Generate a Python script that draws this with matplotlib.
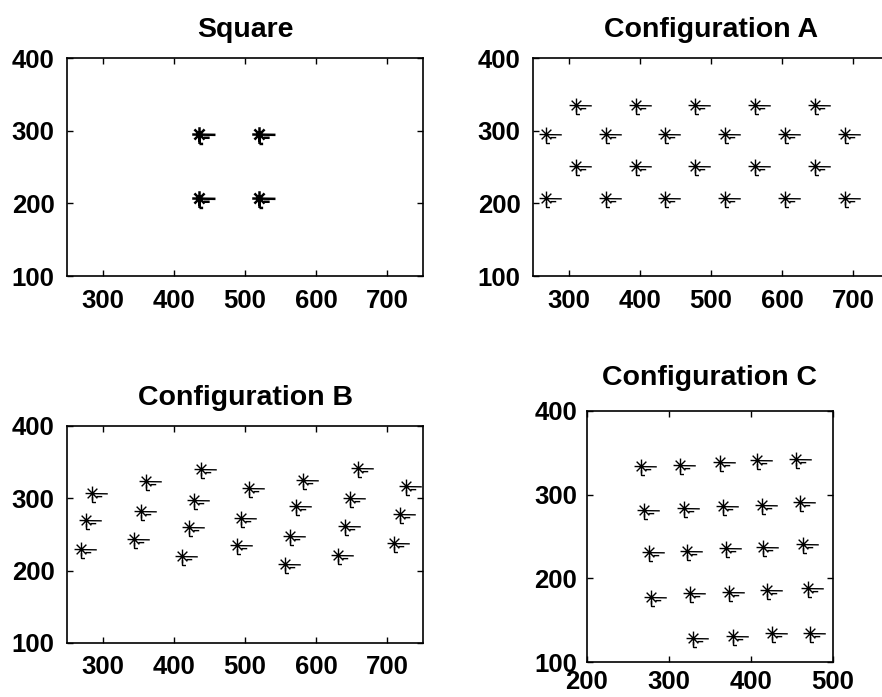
import matplotlib
matplotlib.use("Agg")
import matplotlib.pyplot as plt
from matplotlib.path import Path
import numpy as np

plt.rcParams['font.family'] = ['Liberation Sans', 'DejaVu Sans']
plt.rcParams['font.weight'] = 'bold'

# ---- data ----
square_x = [436, 520, 436, 520]
square_y = [296, 296, 208, 208]

confA_x = [310, 394, 478, 562, 646,
           268, 352, 436, 520, 604, 688,
           310, 394, 478, 562, 646,
           268, 352, 436, 520, 604, 688]
confA_y = [336, 336, 336, 336, 336,
           295, 295, 295, 295, 295, 295,
           252, 252, 252, 252, 252,
           208, 208, 208, 208, 208, 208]

confB_x = [269, 276, 285, 344, 354, 361, 411, 422, 429, 438, 489, 495,
           505, 556, 563, 572, 581, 631, 640, 648, 659, 709, 718, 726]
confB_y = [230, 270, 308, 244, 283, 324, 220, 260, 298, 340, 235, 273,
           314, 209, 248, 289, 326, 222, 262, 301, 342, 238, 278, 317]

confC_x = [266, 313, 362, 407, 455,
           270, 318, 366, 413, 460,
           275, 322, 369, 415, 464,
           278, 326, 373, 420, 469,
           329, 378, 426, 472]
confC_y = [334, 336, 339, 341, 343,
           282, 284, 286, 288, 291,
           231, 233, 236, 238, 241,
           178, 182, 184, 186, 189,
           129, 131, 135, 135]

titles = ["Square", "Configuration A", "Configuration B", "Configuration C"]
x_ticks_main = [300, 400, 500, 600, 700]
x_ticks_c = [200, 300, 400, 500]
y_ticks = [100, 200, 300, 400]

# ---- marker: asterisk with small artefact strokes ----
d = 0.7
verts = [(0, -1), (0, 1),
         (-1, 0), (2.2, -0.05),
         (-d, -d), (d, d),
         (-d, d), (d, -d),
         (0, -0.5), (0, -1.3),
         (0, -1.3), (0.5, -1.3),
         (0.6, -0.45), (1.4, -0.45)]
codes = [Path.MOVETO, Path.LINETO] * 7
star = Path(verts, codes)

fig = plt.figure(figsize=(8.82, 6.97), dpi=100)

positions = [
    [67/882, 1-276/697, 356/882, 218/697],
    [533/882, 1-276/697, 356/882, 218/697],
    [67/882, 1-643/697, 356/882, 217/697],
    [587/882, 1-662/697, 246/882, 251/697],
]
datasets = [(square_x, square_y), (confA_x, confA_y),
            (confB_x, confB_y), (confC_x, confC_y)]
pads = [15, 15, 15, 19]

for i, (pos, (xs, ys)) in enumerate(zip(positions, datasets)):
    ax = fig.add_axes(pos)
    mew = 1.8 if i == 0 else 1.0
    ms = 23 if i == 0 else 22
    ax.plot(xs, ys, linestyle='none', marker=star, markersize=ms,
            markeredgewidth=mew, color='black', markerfacecolor='none')
    if i == 3:
        ax.set_xlim(200, 500)
        ax.set_xticks(x_ticks_c)
    else:
        ax.set_xlim(250, 750)
        ax.set_xticks(x_ticks_main)
    ax.set_ylim(100, 400)
    ax.set_yticks(y_ticks)
    ax.tick_params(direction='in', top=True, right=True, length=4,
                   width=1, labelsize=18.5, pad=9)
    if i == 3:
        ax.tick_params(axis='x', pad=6)
        ax.tick_params(axis='y', pad=7)
    for lab in ax.get_xticklabels() + ax.get_yticklabels():
        lab.set_fontweight('bold')
    for s in ax.spines.values():
        s.set_linewidth(1.2)
    ax.set_title(titles[i], fontsize=20.5, fontweight='bold', pad=pads[i])

fig.savefig("out.png", dpi=100)
